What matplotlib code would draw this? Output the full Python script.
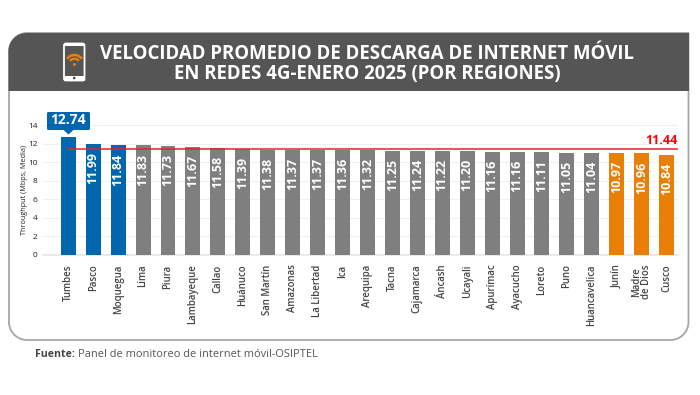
import matplotlib
matplotlib.use("Agg")
import matplotlib.pyplot as plt
from matplotlib.patches import FancyBboxPatch, Rectangle, Polygon, Arc, Circle, PathPatch
from matplotlib.path import Path
import numpy as np

regions = ["Tumbes","Pasco","Moquegua","Lima","Piura","Lambayeque","Callao","Huánuco","San Martín",
           "Amazonas","La Libertad","Ica","Arequipa","Tacna","Cajamarca","Áncash","Ucayali","Apurímac",
           "Ayacucho","Loreto","Puno","Huancavelica","Junín","Madre\nde Dios","Cusco"]
values = [12.74,11.99,11.84,11.83,11.73,11.67,11.58,11.39,11.38,11.37,11.37,11.36,11.32,11.25,11.24,
          11.22,11.20,11.16,11.16,11.11,11.05,11.04,10.97,10.96,10.84]
groups = ["b"]*3 + ["g"]*19 + ["o"]*3
colors = {"b":"#0066AE","g":"#7F7F7F","o":"#E97F07"}
average = 11.44
title_lines = ["VELOCIDAD PROMEDIO DE DESCARGA DE INTERNET MÓVIL","EN REDES 4G-ENERO 2025 (POR REGIONES)"]
source_bold = "Fuente:"
source_text = "Panel de monitoreo de internet móvil-OSIPTEL"
ylabel = "Throughput (Mbps, Media)"
yticks = [0,2,4,6,8,10,12,14]

W,H = 700,395
plt.rcParams['font.family'] = ['Open Sans','DejaVu Sans']
fig = plt.figure(figsize=(W/100,H/100),dpi=100,facecolor="white")

bg = fig.add_axes([0,0,1,1]); bg.set_xlim(0,W); bg.set_ylim(H,0); bg.axis("off")

def rounded(x0,y0,x1,y1,rtl,rtr,rbr,rbl):
    k=0.45
    v=[(x0+rtl,y0),(x1-rtr,y0),(x1-rtr*k,y0),(x1,y0+rtr*k),(x1,y0+rtr),(x1,y1-rbr),(x1,y1-rbr*k),(x1-rbr*k,y1),
       (x1-rbr,y1),(x0+rbl,y1),(x0+rbl*k,y1),(x0,y1-rbl*k),(x0,y1-rbl),(x0,y0+rtl),(x0,y0+rtl*k),(x0+rtl*k,y0),(x0+rtl,y0)]
    c=[Path.MOVETO,Path.LINETO,Path.CURVE4,Path.CURVE4,Path.CURVE4,Path.LINETO,Path.CURVE4,Path.CURVE4,Path.CURVE4,
       Path.LINETO,Path.CURVE4,Path.CURVE4,Path.CURVE4,Path.LINETO,Path.CURVE4,Path.CURVE4,Path.CURVE4]
    return Path(v,c)

bg.add_patch(PathPatch(rounded(9,33,688.5,340,18,0,18,18),fc="white",ec="#A6A6A6",lw=1.3))
bg.add_patch(PathPatch(rounded(8.5,33,689,91,18,0,0,0),fc="#555555",ec="none"))

# phone icon
bg.add_patch(FancyBboxPatch((64,43.5),20.5,37,boxstyle="round,pad=0,rounding_size=2",fc="#555555",ec="white",lw=1.3))
bg.add_patch(Rectangle((64,43.5),20.5,2.5,fc="white",ec="none"))
bg.add_patch(Rectangle((64,75.5),20.5,5,fc="white",ec="none"))
bg.add_patch(Circle((74.2,78),1.3,fc="#444444",ec="none"))
for d in (18,10.5):
    bg.add_patch(Arc((74.5,64),d,d,theta1=215,theta2=325,color="#E97F07",lw=1.8))
bg.add_patch(Circle((74.5,64.5),1.5,fc="#E97F07",ec="none"))

for y,t in zip((54,74.5),title_lines):
    bg.text(367,y,t,color="white",fontsize=13.4,fontweight="bold",ha="center",va="center",family="Open Sans")

bg.text(35.5,354.5,source_bold,fontsize=7.6,fontweight="bold",color="#444444",va="center",ha="left")
bg.text(78,354.5,source_text,fontsize=7.9,color="#555555",va="center",ha="left")

# plot axes: pixel geometry
x_l,x_r,y_b,y_t = 43,678,254.7,125.3
ax = fig.add_axes([x_l/W,1-y_b/H,(x_r-x_l)/W,(y_b-y_t)/H])
ax.patch.set_alpha(0)
ax.set_ylim(0,14)
step=24.93
ax.set_xlim(-(68.3-x_l)/step,(x_r-68.3)/step)
x=np.arange(len(values))
ax.bar(x,values,width=0.6,color=[colors[g] for g in groups],zorder=3)
ax.plot([0,24.45],[average,average],color="#E8202A",lw=1.1,zorder=4)
ax.set_yticks(yticks)
ax.tick_params(axis="y",length=0,labelsize=6,pad=4,colors="#222222")
ax.set_xticks(x)
ax.set_xticklabels(regions,rotation=90,fontsize=6.9,color="#444444",fontweight="semibold",linespacing=0.95,va="top")
ax.tick_params(axis="x",length=0,pad=7)
ax.grid(axis="y",color="#F0F0F0",lw=0.8,zorder=0)
for s in ("top","left","right"): ax.spines[s].set_visible(False)
ax.spines["bottom"].set_color("#E6E6E6"); ax.spines["bottom"].set_linewidth(1.2)
ax.set_ylabel(ylabel,fontsize=5.2,color="#222222",labelpad=0)

for xi,v in zip(x[1:],values[1:]):
    ax.text(xi,v-0.87,f"{v:.2f}",rotation=90,ha="center",va="top",color="white",fontsize=9,fontweight="bold",zorder=5)

# Tumbes callout and average label
top = fig.add_axes([0,0,1,1]); top.set_xlim(0,W); top.set_ylim(H,0); top.axis("off"); top.patch.set_alpha(0)
top.add_patch(FancyBboxPatch((47,112),43,18,boxstyle="round,pad=0,rounding_size=1.5",fc="#0066AE",ec="none"))
top.add_patch(Polygon([(63,129.5),(74,129.5),(68.5,134.5)],fc="#0066AE",ec="none"))
top.text(68.5,120.5,f"{values[0]:.2f}",ha="center",va="center",color="white",fontsize=10,fontweight="bold")
top.text(678,140,f"{average:.2f}",ha="right",va="center",color="#FF0000",fontsize=9,fontweight="bold")

fig.savefig("out.png",dpi=100,facecolor="white")
